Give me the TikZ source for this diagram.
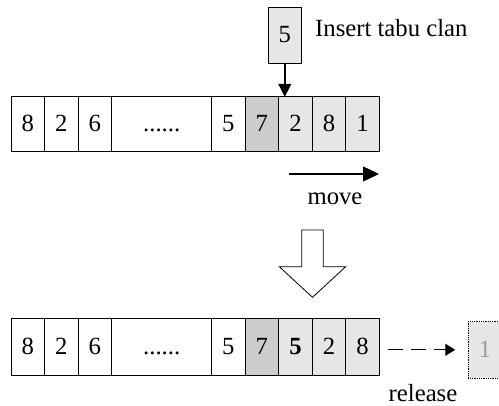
\documentclass[tikz,border=0pt]{standalone}
\usepackage{fontspec}
\setmainfont{Liberation Serif}
\usetikzlibrary{arrows.meta}
\definecolor{lightcell}{HTML}{E6E6E6}
\definecolor{darkcell}{HTML}{CCCCCC}
\definecolor{fadetext}{HTML}{9A9A9A}
\begin{document}
\begin{tikzpicture}[x=1pt,y=-1pt,
  cellbox/.style={draw, line width=0.8pt, inner sep=0pt, outer sep=0pt,
    minimum width=33.55pt, text height=15pt, text depth=0pt,
    font=\fontsize{24.7}{29}\selectfont},
  toprow/.style={cellbox, minimum height=55pt},
  botrow/.style={cellbox, minimum height=57.5pt},
  widecell/.style={minimum width=100pt},
  litecell/.style={fill=lightcell},
  darkbox/.style={fill=darkcell},
  lbl/.style={font=\fontsize{24.7}{29}\selectfont, inner sep=0pt},
  arr/.style={line width=1.4pt},
]
\useasboundingbox (0,0) rectangle (499,406);
% insert box
\node[cellbox, litecell, minimum height=56pt, minimum width=33.7pt] (ins) at (284.8,35) {5};
\node[lbl, anchor=base west] (instext) at (315,36.7) {Insert tabu clan};
% top row
\node[toprow] (t1) at (27.8,124.3) {8};
\node[toprow] (t2) at (61.3,124.3) {2};
\node[toprow] (t3) at (94.9,124.3) {6};
\node[toprow, widecell] (t4) at (161.7,124.3) {......};
\node[toprow] (t5) at (228.4,124.3) {5};
\node[toprow, darkbox] (t6) at (261.9,124.3) {7};
\node[toprow, litecell] (t7) at (295.5,124.3) {2};
\node[toprow, litecell] (t8) at (329.0,124.3) {8};
\node[toprow, litecell] (t9) at (362.6,124.3) {1};
\draw[arr, -{Triangle[length=13pt,width=13pt]}] (ins.south) -- (ins.south |- t7.north);
% move arrow
\coordinate (m1) at (289,174);
\coordinate (m2) at (379,174);
\draw[arr, -{Triangle[length=16pt,width=15pt]}] (m1) -- (m2);
\node[lbl, anchor=base] (move) at (335,205) {move};
% hollow arrow
\draw[line width=0.8pt, fill=white] (301.7,230) -- (323.3,230) -- (323.3,266.7) -- (345.7,266.7)
  -- (312.5,297.3) -- (279.3,266.7) -- (301.7,266.7) -- cycle;
% bottom row
\node[botrow] (b1) at (27.8,347) {8};
\node[botrow] (b2) at (61.3,347) {2};
\node[botrow] (b3) at (94.9,347) {6};
\node[botrow, widecell] (b4) at (161.7,347) {......};
\node[botrow] (b5) at (228.4,347) {5};
\node[botrow, darkbox] (b6) at (261.9,347) {7};
\node[botrow, litecell] (b7) at (295.5,347) {\textbf{5}};
\node[botrow, litecell] (b8) at (329.0,347) {2};
\node[botrow, litecell] (b9) at (362.6,347) {8};
% released
\node[cellbox, litecell, densely dotted, minimum height=56.3pt, minimum width=33.5pt,
  text=fadetext] (r1) at (485,349.8) {1};
\draw[arr, dash pattern=on 15pt off 8pt, shorten <=8.7pt, shorten >=13pt,
  -{Triangle[length=10pt,width=12pt]}] (b9.east |- r1.west) -- (r1.west);
\node[lbl, anchor=base] (release) at (423,401.7) {release};
\end{tikzpicture}
\end{document}
